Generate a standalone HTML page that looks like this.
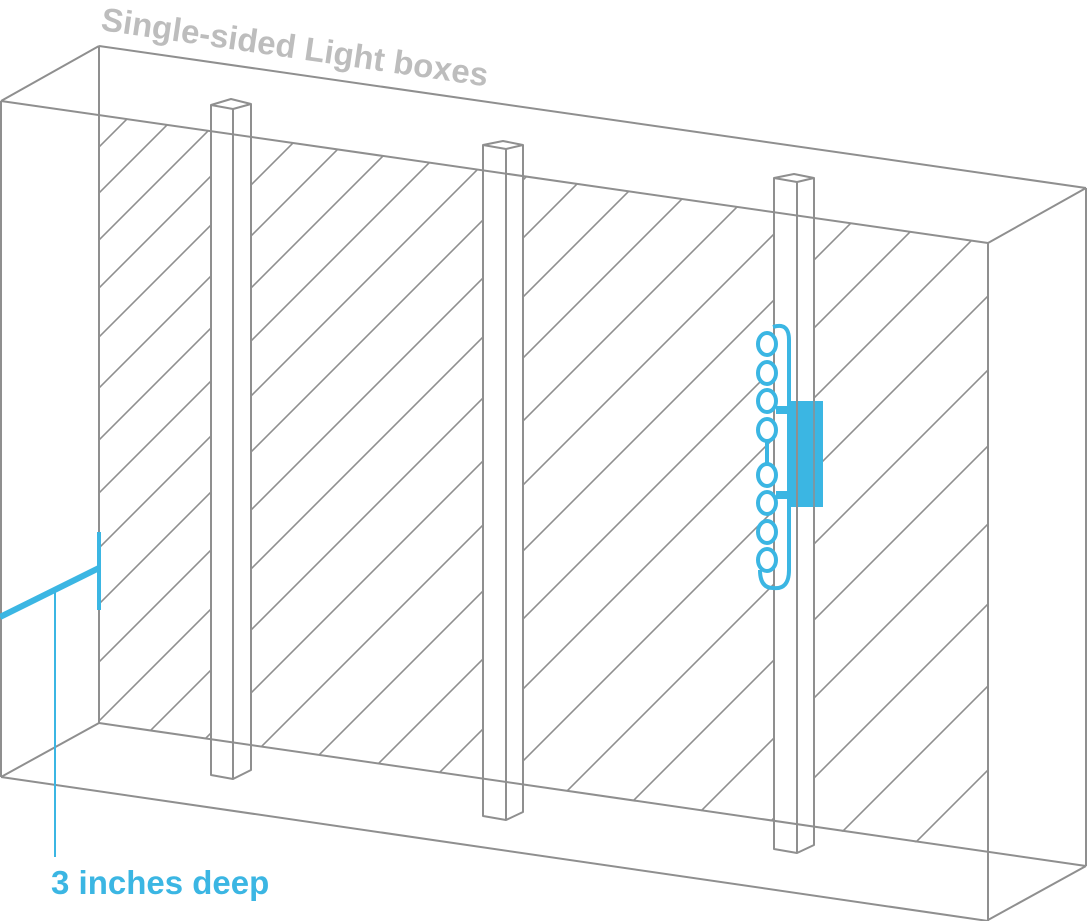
<!DOCTYPE html>
<html><head><meta charset="utf-8"><style>
html,body{margin:0;padding:0;background:#fff;width:1088px;height:921px;overflow:hidden}
svg{display:block;overflow:hidden}
</style></head><body>
<svg width="1088" height="921" viewBox="0 0 1088 921" xmlns="http://www.w3.org/2000/svg">
<defs>
<clipPath id="panel"><polygon points="99,115 988,243 988,853 99,723"/></clipPath>
</defs>
<g clip-path="url(#panel)" stroke="#8f8f8f" stroke-width="1.6">
<line x1="-754" y1="1000" x2="246" y2="0"/>
<line x1="-708" y1="1000" x2="292" y2="0"/>
<line x1="-661" y1="1000" x2="339" y2="0"/>
<line x1="-613" y1="1000" x2="387" y2="0"/>
<line x1="-564" y1="1000" x2="436" y2="0"/>
<line x1="-513" y1="1000" x2="487" y2="0"/>
<line x1="-461" y1="1000" x2="539" y2="0"/>
<line x1="-408" y1="1000" x2="592" y2="0"/>
<line x1="-353" y1="1000" x2="647" y2="0"/>
<line x1="-297" y1="1000" x2="703" y2="0"/>
<line x1="-239" y1="1000" x2="761" y2="0"/>
<line x1="-180" y1="1000" x2="820" y2="0"/>
<line x1="-119" y1="1000" x2="881" y2="0"/>
<line x1="-56" y1="1000" x2="944" y2="0"/>
<line x1="8" y1="1000" x2="1008" y2="0"/>
<line x1="74" y1="1000" x2="1074" y2="0"/>
<line x1="142" y1="1000" x2="1142" y2="0"/>
<line x1="212" y1="1000" x2="1212" y2="0"/>
<line x1="284" y1="1000" x2="1284" y2="0"/>
<line x1="358" y1="1000" x2="1358" y2="0"/>
<line x1="434" y1="1000" x2="1434" y2="0"/>
<line x1="512" y1="1000" x2="1512" y2="0"/>
<line x1="592" y1="1000" x2="1592" y2="0"/>
<line x1="674" y1="1000" x2="1674" y2="0"/>
<line x1="758" y1="1000" x2="1758" y2="0"/>
</g>
<g fill="#fff" stroke="#8f8f8f" stroke-width="2" stroke-linejoin="round">
<polygon points="211,105 231,99 251,104 251,770 233,779 211,775"/>
<polyline fill="none" points="211,105 233,109 251,104"/>
<line x1="233" y1="109" x2="233" y2="779"/>
<polygon points="483,145 503,141 523,145 523,812 506,820 483,816"/>
<polyline fill="none" points="483,145 506,149 523,145"/>
<line x1="506" y1="149" x2="506" y2="820"/>
<polygon points="774,178 794,174 814,178 814,845 797,853 774,849"/>
<polyline fill="none" points="774,178 797,182 814,178"/>
<line x1="797" y1="182" x2="797" y2="853"/>
</g>
<g stroke="#8f8f8f" stroke-width="2" fill="none">
<line x1="1" y1="101" x2="988" y2="243"/>
<line x1="99" y1="46" x2="1086" y2="188"/>
<line x1="1" y1="101" x2="99" y2="46"/>
<line x1="988" y1="243" x2="1086" y2="188"/>
<line x1="1" y1="101" x2="1" y2="777"/>
<line x1="99" y1="46" x2="99" y2="723"/>
<line x1="988" y1="243" x2="988" y2="921"/>
<line x1="1086" y1="188" x2="1086" y2="866"/>
<line x1="1" y1="777" x2="988" y2="921"/>
<line x1="99" y1="723" x2="1086" y2="866"/>
<line x1="1" y1="777" x2="99" y2="723"/>
<line x1="988" y1="920" x2="1086" y2="866"/>
</g>
<g stroke="#3bb6e3" fill="none">
<line x1="99" y1="532" x2="99" y2="610" stroke-width="4"/>
<line x1="0" y1="617" x2="99" y2="568" stroke-width="6"/>
<line x1="55" y1="590" x2="55" y2="857" stroke-width="2"/>
</g>
<g stroke="#3bb6e3" stroke-width="4" fill="#fff">
<path d="M773,327 Q789,322 789,340 L789,570 Q789,590 773,588 Q760,588 760,570" fill="none"/>
<line x1="767" y1="438" x2="767" y2="470"/>
<ellipse cx="767" cy="344" rx="9" ry="11"/>
<ellipse cx="767" cy="373" rx="9" ry="11"/>
<ellipse cx="767" cy="401" rx="9" ry="11"/>
<ellipse cx="767" cy="430" rx="9" ry="11"/>
<ellipse cx="767" cy="475" rx="9" ry="11"/>
<ellipse cx="767" cy="503" rx="9" ry="11"/>
<ellipse cx="767" cy="532" rx="9" ry="11"/>
<ellipse cx="767" cy="560" rx="9" ry="11"/>
</g>
<g fill="#3bb6e3">
<rect x="776" y="406" width="14" height="8"/>
<rect x="776" y="491" width="14" height="8"/>
<rect x="789" y="401" width="34" height="106"/>
</g>
<line x1="797" y1="401" x2="797" y2="507" stroke="#8f8f8f" stroke-width="2"/>
<line x1="814" y1="401" x2="814" y2="507" stroke="#8f8f8f" stroke-width="1.5"/>
<text x="100" y="30" transform="rotate(8.3 100 30)" font-family="'Liberation Sans',sans-serif" font-weight="bold" font-size="33" fill="#bdbdbd">Single-sided Light boxes</text>
<text x="51" y="894" font-family="'Liberation Sans',sans-serif" font-weight="bold" font-size="33" fill="#3bb6e3">3 inches deep</text>
</svg>
</body></html>
